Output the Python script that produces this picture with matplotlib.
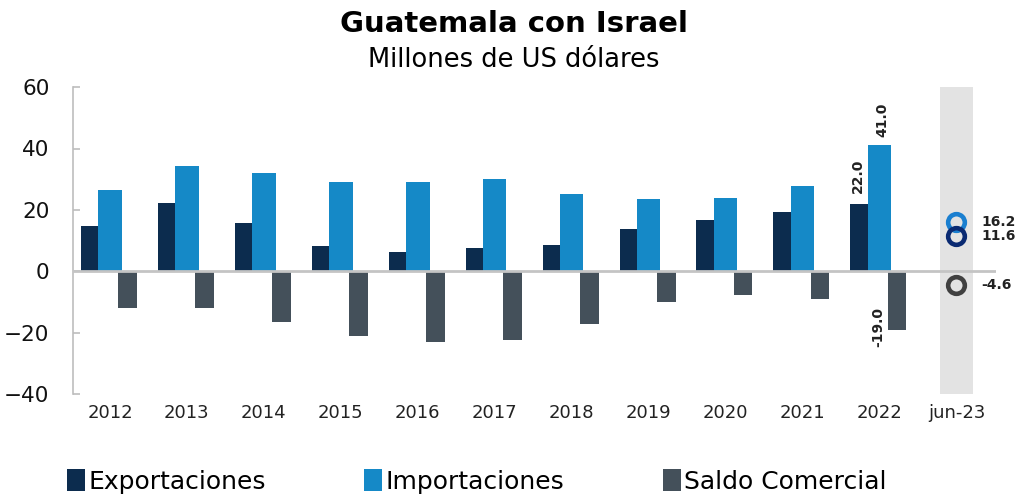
import matplotlib.pyplot as plt
import numpy as np

years = ['2012', '2013', '2014', '2015', '2016', '2017', '2018', '2019', '2020', '2021', '2022']
exportaciones = [14.8, 22.2, 15.7, 8.1, 6.4, 7.7, 8.5, 13.9, 16.6, 19.3, 22.0]
importaciones = [26.6, 34.3, 32.0, 29.0, 29.0, 29.9, 25.3, 23.5, 23.9, 27.9, 41.0]
saldo = [-12.1, -12.1, -16.6, -21.2, -23.2, -22.5, -17.3, -9.9, -7.6, -8.9, -19.0]

# junio 2023 (acumulado)
ultimo = 'jun-23'
exp_jun = 11.6
imp_jun = 16.2
saldo_jun = -4.6

c_exp = '#0c2c4e'
c_imp = '#1589c7'
c_sal = '#44505a'

plt.rcParams['font.family'] = ['DejaVu Sans']

fig = plt.figure(figsize=(10.17, 4.95), dpi=100)
ax = fig.add_axes([0.0718, 0.204, 0.908, 0.620])

x = np.arange(len(years))
ax.axvspan(len(years) - 0.215, len(years) + 0.215, color='#e3e3e3', zorder=0, lw=0)

ax.bar(x - 0.266, exportaciones, width=0.225, color=c_exp, zorder=2, label='Exportaciones')
ax.bar(x, importaciones, width=0.305, color=c_imp, zorder=2, label='Importaciones')
ax.bar(x + 0.227, saldo, width=0.245, color=c_sal, zorder=2, label='Saldo Comercial')
ax.axhline(0, color='#c4c4c4', lw=2, zorder=3)

# marcadores de jun-23
xj = len(years)
ax.plot(xj, imp_jun, 'o', ms=12, mfc='none', mec='#1a7fd0', mew=3.3, zorder=4)
ax.plot(xj, exp_jun, 'o', ms=12, mfc='none', mec='#0a2a72', mew=3.3, zorder=4)
ax.plot(xj, saldo_jun, 'o', ms=12, mfc='none', mec='#404040', mew=3.3, zorder=4)
for v in [imp_jun, exp_jun, saldo_jun]:
    ax.annotate('%.1f' % v, (xj, v), xytext=(18, 0), textcoords='offset points',
                va='center', ha='left', fontsize=10, fontweight='bold', color='#222222')

# etiquetas 2022
last = len(years) - 1
ax.annotate('%.1f' % exportaciones[last], (last - 0.266, exportaciones[last]), xytext=(-1, 8),
            textcoords='offset points', rotation=90, ha='center', va='bottom',
            fontsize=10, fontweight='bold', color='#222222')
ax.annotate('%.1f' % importaciones[last], (last, importaciones[last]), xytext=(2, 6),
            textcoords='offset points', rotation=90, ha='center', va='bottom',
            fontsize=10, fontweight='bold', color='#222222')
ax.annotate('%.1f' % saldo[last], (last + 0.227 - 0.122, saldo[last]), xytext=(-7, 2),
            textcoords='offset points', rotation=90, ha='center', va='center',
            fontsize=10, fontweight='bold', color='#222222')

ax.set_xlim(-0.48, len(years) + 0.52)
ax.set_ylim(-40, 60)
ax.set_yticks([-40, -20, 0, 20, 40, 60])
ax.set_xticks(list(x) + [xj])
ax.set_xticklabels(years + [ultimo])

for s in ['top', 'right', 'bottom']:
    ax.spines[s].set_visible(False)
ax.spines['left'].set_color('#bdbdbd')
ax.spines['left'].set_linewidth(1.2)
ax.tick_params(axis='y', direction='in', length=5, color='#bdbdbd', width=1.2,
               labelsize=15.5, pad=17, labelcolor='#111111')
ax.tick_params(axis='x', length=0, labelsize=13, pad=7, labelcolor='#222222')

fig.text(0.505, 0.952, 'Guatemala con Israel', ha='center', va='center',
         fontsize=21, fontweight='bold')
fig.text(0.505, 0.878, 'Millones de US dólares', ha='center', va='center', fontsize=18.5)

fig.legend(loc='center left', bbox_to_anchor=(0.066, 0.028), ncol=3, frameon=False,
           fontsize=18, handlelength=0.72, handleheight=1.0, handletextpad=0.12,
           columnspacing=3.95, borderpad=0, borderaxespad=0)

fig.savefig('out.png', dpi=100)
